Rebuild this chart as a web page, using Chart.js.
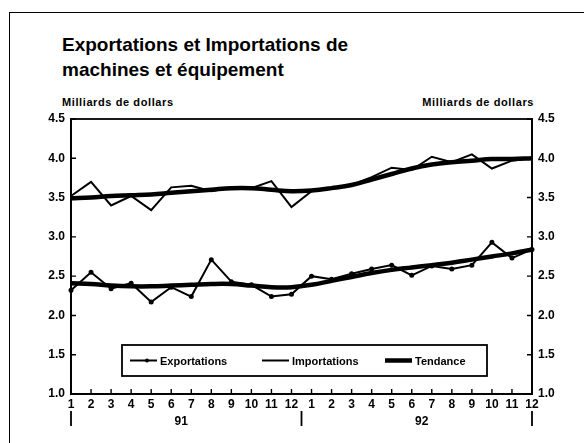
<!doctype html>
<html>
<head>
<meta charset="utf-8">
<title>Exportations et importations de machines et équipement</title>
<script src="https://cdn.jsdelivr.net/npm/chart.js@4/dist/chart.umd.min.js"></script>
<style>
	body { margin: 0; background: #fff; }
	#wrap { position: relative; width: 584px; height: 443px; overflow: hidden;
		font-family: "Liberation Sans", Arial, sans-serif; font-weight: bold; color: #000; }
	#frame { position: absolute; left: 9px; top: 12px; width: 600px; height: 460px; border: 1.5px solid #000; }
	#title { position: absolute; left: 62px; top: 32px; font-size: 19px; line-height: 25px; }
	.unit { position: absolute; top: 96px; font-size: 11px; letter-spacing: 0.6px; }
	canvas { position: absolute; left: 0; top: 0; }
</style>
</head>
<body>
<div id="wrap">
	<div id="frame"></div>
	<div id="title">Exportations et Importations de<br>machines et équipement</div>
	<div class="unit" style="left:62px;">Milliards de dollars</div>
	<div class="unit" style="right:50px;">Milliards de dollars</div>
	<canvas id="canvas" width="584" height="443"></canvas>
</div>
<script>
	// monthly data, Jan 1991 - Dec 1992
	var months = ['1','2','3','4','5','6','7','8','9','10','11','12',
		'1','2','3','4','5','6','7','8','9','10','11','12'];
	var years = ['91', '92'];
	var exportations = [2.32, 2.55, 2.34, 2.41, 2.17, 2.36, 2.24, 2.71, 2.43, 2.39, 2.24, 2.27,
		2.50, 2.46, 2.53, 2.59, 2.64, 2.51, 2.63, 2.59, 2.64, 2.93, 2.73, 2.84];
	var importations = [3.52, 3.70, 3.40, 3.52, 3.34, 3.63, 3.65, 3.58, 3.63, 3.62, 3.71, 3.38,
		3.58, 3.62, 3.66, 3.76, 3.88, 3.85, 4.02, 3.95, 4.05, 3.87, 3.97, 4.00];
	var tendanceExp = [2.41, 2.40, 2.38, 2.37, 2.37, 2.38, 2.39, 2.40, 2.40, 2.38, 2.36, 2.36,
		2.39, 2.44, 2.49, 2.54, 2.58, 2.61, 2.64, 2.67, 2.71, 2.75, 2.79, 2.84];
	var tendanceImp = [3.49, 3.50, 3.52, 3.53, 3.54, 3.56, 3.58, 3.60, 3.62, 3.62, 3.60, 3.58,
		3.59, 3.62, 3.66, 3.73, 3.80, 3.87, 3.92, 3.95, 3.97, 3.99, 3.99, 4.00];
	var yMin = 1.0, yMax = 4.5, yStep = 0.5;

	var font = { family: '"Liberation Sans", Arial, sans-serif', weight: 'bold', size: 12 };

	var decor = {
		id: 'decor',
		afterDraw: function (chart) {
			var ctx = chart.ctx, a = chart.chartArea;
			var x = chart.scales.x, yl = chart.scales.y;
			ctx.save();
			ctx.strokeStyle = '#000';
			ctx.fillStyle = '#000';
			ctx.lineWidth = 1.8;
			ctx.strokeRect(a.left, a.top, a.right - a.left, a.bottom - a.top);

			// inward ticks
			ctx.lineWidth = 1.4;
			ctx.beginPath();
			yl.ticks.forEach(function (t) {
				var py = yl.getPixelForValue(t.value);
				ctx.moveTo(a.left, py); ctx.lineTo(a.left + 5, py);
				ctx.moveTo(a.right, py); ctx.lineTo(a.right - 5, py);
			});
			months.forEach(function (m, i) {
				var px = x.getPixelForValue(i);
				ctx.moveTo(px, a.bottom); ctx.lineTo(px, a.bottom - 5);
			});
			// year separators
			var seps = [x.getPixelForValue(0),
				(x.getPixelForValue(11) + x.getPixelForValue(12)) / 2,
				x.getPixelForValue(months.length - 1)];
			ctx.stroke();
			ctx.lineWidth = 1.8;
			ctx.beginPath();
			seps.forEach(function (px) {
				ctx.moveTo(px, a.bottom + 17); ctx.lineTo(px, a.bottom + 32);
			});
			ctx.stroke();

			ctx.font = 'bold 12px "Liberation Sans", Arial, sans-serif';
			ctx.textAlign = 'center';
			ctx.textBaseline = 'middle';
			years.forEach(function (yr, k) {
				var px = (x.getPixelForValue(k * 12 + 5) + x.getPixelForValue(k * 12 + 6)) / 2;
				ctx.fillText(yr, px, a.bottom + 28);
			});

			// legend box
			var lx = 122, ly = 345, lw = 365, lh = 31, cy = ly + lh / 2;
			ctx.lineWidth = 1.8;
			ctx.strokeRect(lx, ly, lw, lh);
			var items = [
				{ ds: chart.data.datasets[0], x: 130 },
				{ ds: chart.data.datasets[1], x: 262 },
				{ ds: chart.data.datasets[2], x: 385 }
			];
			ctx.font = 'bold 11px "Liberation Sans", Arial, sans-serif';
			ctx.textAlign = 'left';
			items.forEach(function (it) {
				ctx.lineWidth = it.ds.borderWidth;
				ctx.beginPath();
				ctx.moveTo(it.x, cy); ctx.lineTo(it.x + 27, cy);
				ctx.stroke();
				if (it.ds.pointRadius > 0) {
					ctx.beginPath();
					ctx.arc(it.x + 17, cy, 2, 0, Math.PI * 2);
					ctx.fill();
				}
				ctx.fillText(it.ds.label, it.x + 30, cy + 1);
			});
			ctx.restore();
		}
	};

	window.onload = function () {
		var ctx = document.getElementById('canvas').getContext('2d');
		new Chart(ctx, {
			type: 'line',
			data: {
				labels: months,
				datasets: [{
					label: 'Exportations',
					data: exportations,
					borderColor: '#000',
					backgroundColor: '#000',
					borderWidth: 2,
					pointRadius: 1.5,
					tension: 0
				}, {
					label: 'Importations',
					data: importations,
					borderColor: '#000',
					borderWidth: 2,
					pointRadius: 0,
					tension: 0
				}, {
					label: 'Tendance',
					data: tendanceExp,
					borderColor: '#000',
					borderWidth: 4.5,
					pointRadius: 0,
					tension: 0.4
				}, {
					label: 'Tendance',
					data: tendanceImp,
					borderColor: '#000',
					borderWidth: 4.5,
					pointRadius: 0,
					tension: 0.4
				}]
			},
			options: {
				responsive: false,
				animation: false,
				layout: { padding: { top: 119, left: 0, right: 0, bottom: 0 } },
				plugins: {
					legend: { display: false },
					title: { display: false },
					tooltip: { enabled: false }
				},
				scales: {
					x: {
						type: 'category',
						offset: false,
						grid: { display: false, drawTicks: false },
						border: { display: true, color: '#000', width: 1.8 },
						ticks: { color: '#000', font: font, padding: 3, maxRotation: 0, autoSkip: false },
						afterFit: function (s) { s.height = 49; }
					},
					y: {
						position: 'left',
						min: yMin, max: yMax,
						grid: { display: false, drawTicks: false },
						border: { display: true, color: '#000', width: 1.8 },
						ticks: { stepSize: yStep, color: '#000', font: font, padding: 6,
							callback: function (v) { return v.toFixed(1); } },
						afterFit: function (s) { s.width = 71; }
					},
					y2: {
						position: 'right',
						min: yMin, max: yMax,
						grid: { display: false, drawTicks: false },
						border: { display: true, color: '#000', width: 1.8 },
						ticks: { stepSize: yStep, color: '#000', font: font, padding: 6,
							callback: function (v) { return v.toFixed(1); } },
						afterFit: function (s) { s.width = 52; }
					}
				}
			},
			plugins: [decor]
		});
	};
</script>
</body>
</html>
